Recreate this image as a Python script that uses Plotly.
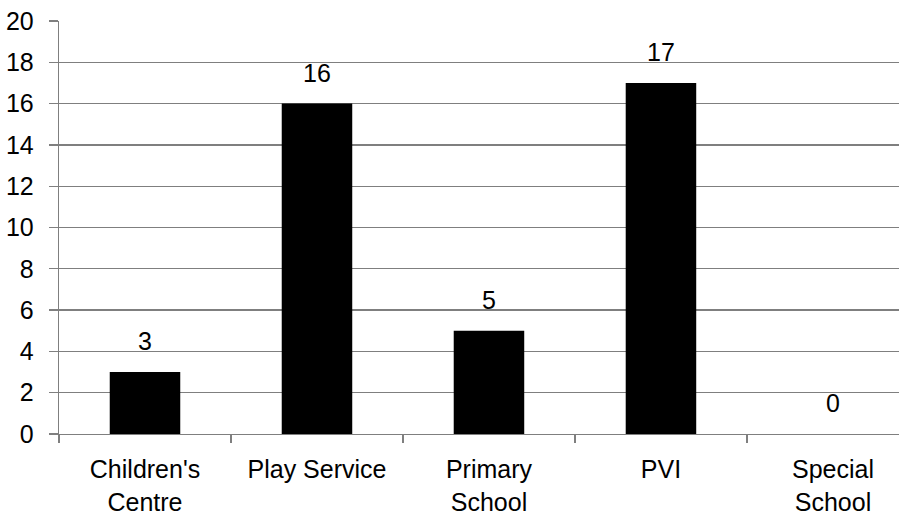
import plotly.graph_objects as go

categories = ["Children's<br>Centre", "Play Service", "Primary<br>School", "PVI", "Special<br>School"]
values = [3, 16, 5, 17, 0]
y_ticks = [0, 2, 4, 6, 8, 10, 12, 14, 16, 18, 20]

FONT = "Liberation Sans, Arial, sans-serif"
GRID = "#7f7f7f"
FS = 25

fig = go.Figure()
fig.add_trace(go.Bar(
    x=categories, y=values,
    marker=dict(color="black", line=dict(width=0)),
    width=0.41,
))

for c, v in zip(categories, values):
    fig.add_annotation(x=c, y=v, text=str(v), showarrow=False,
                       yanchor="bottom", yshift=15,
                       font=dict(family=FONT, size=FS, color="black"))

fig.update_layout(
    width=908, height=520,
    margin=dict(l=59, r=9, t=21, b=86, autoexpand=False),
    paper_bgcolor="white", plot_bgcolor="white",
    showlegend=False,
    font=dict(family=FONT, size=FS, color="black"),
)
fig.update_xaxes(
    type="category", range=[-0.5, 4.384], automargin=False,
    showline=True, linecolor=GRID, linewidth=1.3,
    ticks="outside", tickson="boundaries", ticklen=8, tickcolor=GRID, tickwidth=1.3,
    showgrid=False,
    ticklabelstandoff=13,
    tickfont=dict(family=FONT, size=FS, color="black"),
)
fig.update_yaxes(
    range=[0, 20], tickvals=y_ticks, automargin=False,
    showline=True, linecolor=GRID, linewidth=1.3,
    ticks="outside", ticklen=9, tickcolor=GRID, tickwidth=1.3,
    showgrid=True, gridcolor=GRID, gridwidth=1.3,
    zeroline=False,
    ticklabelstandoff=10,
    tickfont=dict(family=FONT, size=FS, color="black"),
)

fig.write_html("out.html",
               config={"displayModeBar": False, "staticPlot": True},
               post_script="document.body.style.margin='0px';document.body.style.overflow='hidden';")
